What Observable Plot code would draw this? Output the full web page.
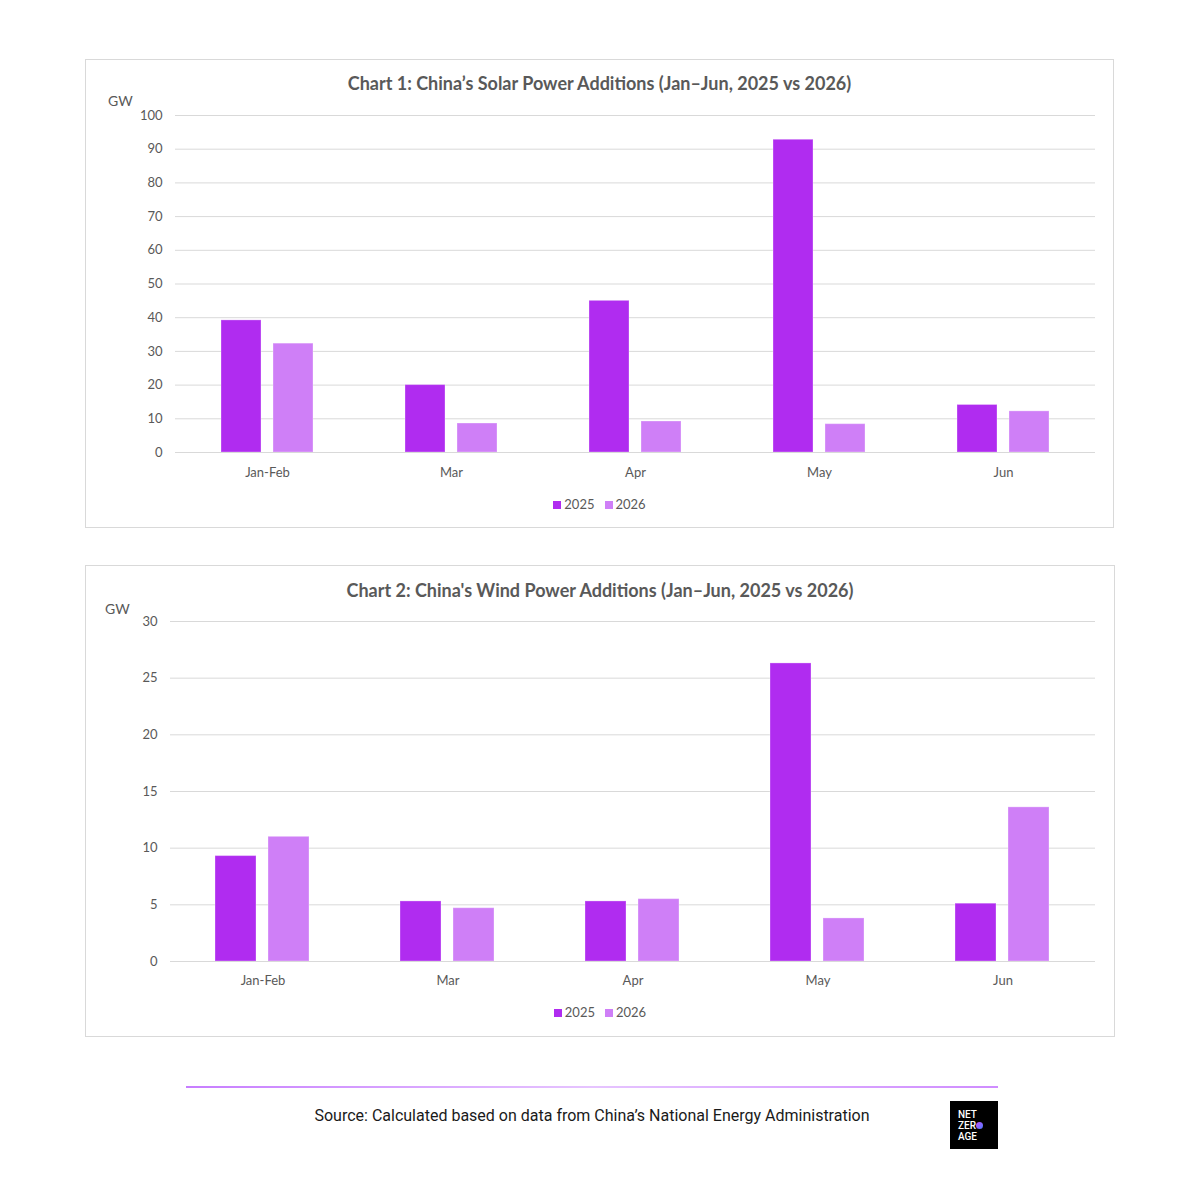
<!DOCTYPE html>
<html><head><meta charset="utf-8">
<script src="https://cdn.jsdelivr.net/npm/d3@7"></script>
<script src="https://cdn.jsdelivr.net/npm/@observablehq/plot@0.6"></script>
<style>
body{margin:0;background:#fff;width:1200px;height:1200px;position:relative;font-family:Lato,"Open Sans",sans-serif;overflow:hidden}
.panel{position:absolute;border:1px solid #d9d9d9;box-sizing:border-box;background:#fff}
.title{position:absolute;text-align:center;font-weight:700;font-size:18px;line-height:20px;color:#595959;white-space:nowrap}
.unit{position:absolute;font-size:14px;line-height:16px;color:#595959}
.legend{position:absolute;text-align:center;font-size:13px;line-height:16px;color:#595959;white-space:nowrap}
.sw{display:inline-block;width:8px;height:8px;margin-right:3px;vertical-align:0px}
.item{margin:0 5px}
.plotbox{position:absolute}
.source{position:absolute;left:186px;width:812px;top:1106px;text-align:center;font-family:"Liberation Sans Narrow",Roboto,sans-serif;font-size:16px;line-height:20px;color:#1a1a1a;white-space:nowrap}
.rule{position:absolute;left:186px;width:812px;top:1086px;height:2px;background:linear-gradient(to right,#c77dff,#e6c4ff 50%,#cf8cff)}
.logo{position:absolute;left:950px;top:1101px;width:48px;height:48px;background:#000;color:#fff;font-family:Roboto,"Liberation Sans",sans-serif;font-weight:500;font-size:10px;line-height:11px;box-sizing:border-box;padding:8px 0 0 8px}
.dot{display:inline-block;width:7px;height:7px;border-radius:50%;background:linear-gradient(135deg,#c04dff,#4d7dff);vertical-align:0px;margin-left:0.5px}
</style></head><body>
<div class="panel" style="left:85px;top:59px;width:1029px;height:469px"></div>
<div class="panel" style="left:85px;top:565px;width:1030px;height:472px"></div>

<div class="title" style="left:85px;width:1029px;top:73px">Chart 1: China’s Solar Power Additions (Jan–Jun, 2025 vs 2026)</div>
<div class="unit" style="left:108px;top:93px">GW</div>
<div id="plot1" class="plotbox" style="left:85px;top:99px"></div>
<div class="legend" id="leg1" style="left:85px;width:1029px;top:496px"></div>

<div class="title" style="left:85px;width:1030px;top:580px">Chart 2: China's Wind Power Additions (Jan–Jun, 2025 vs 2026)</div>
<div class="unit" style="left:105px;top:601px">GW</div>
<div id="plot2" class="plotbox" style="left:85px;top:600px"></div>
<div class="legend" id="leg2" style="left:85px;width:1030px;top:1004px"></div>

<div class="rule"></div>
<div class="source">Source: Calculated based on data from China’s National Energy Administration</div>
<div class="logo">NET<br>ZER<span class="dot"></span><br>AGE</div>

<script>
const months = ["Jan-Feb", "Mar", "Apr", "May", "Jun"];
const years = ["2025", "2026"];
const yearColors = ["#b02cf0", "#cf7ff7"];

const solar2025 = [39.2, 20.0, 45.0, 92.8, 14.1];
const solar2026 = [32.3, 8.6, 9.2, 8.4, 12.2];
const solarTicks = [0, 10, 20, 30, 40, 50, 60, 70, 80, 90, 100];

const wind2025 = [9.3, 5.3, 5.3, 26.3, 5.1];
const wind2026 = [11.0, 4.7, 5.5, 3.8, 13.6];
const windTicks = [0, 5, 10, 15, 20, 25, 30];

function rowsOf(a, b) {
  return months.flatMap((m, i) => [
    {month: m, year: years[0], value: a[i]},
    {month: m, year: years[1], value: b[i]}
  ]);
}

function makeChart(a, b, ticks, opts) {
  const rows = rowsOf(a, b);
  return Plot.plot({
    width: opts.width,
    height: opts.height,
    marginLeft: opts.marginLeft,
    marginRight: opts.marginRight,
    marginTop: opts.marginTop,
    marginBottom: opts.marginBottom,
    style: {fontFamily: "Lato, 'Open Sans', sans-serif", fontSize: "13px", color: "#595959", background: "transparent", overflow: "visible"},
    fx: {domain: months, padding: 0, label: null},
    x: {domain: years, paddingInner: 0.226, paddingOuter: 0.851, axis: null},
    y: {domain: [ticks[0], ticks[ticks.length - 1]], label: null},
    color: {domain: years, range: yearColors},
    marks: [
      Plot.gridY(ticks.slice(1), {stroke: "#d9d9d9", strokeOpacity: 1, strokeWidth: 1}),
      Plot.axisY(ticks, {tickSize: 0, tickPadding: 13, label: null, fill: "#595959"}),
      Plot.axisFx({anchor: "bottom", tickSize: 0, tickPadding: opts.xPad, label: null, fill: "#595959"}),
      Plot.barY(rows, {fx: "month", x: "year", y: "value", fill: "year", stroke: "#ffffff", strokeOpacity: 0.3, strokeWidth: 1}),
      Plot.ruleY([0], {stroke: "#d9d9d9", strokeWidth: 1.2})
    ]
  });
}

document.getElementById("plot1").append(makeChart(solar2025, solar2026, solarTicks, {
  width: 1028, height: 393, marginLeft: 89, marginRight: 18, marginTop: 16, marginBottom: 40, xPad: 15
}));
document.getElementById("plot2").append(makeChart(wind2025, wind2026, windTicks, {
  width: 1029, height: 401, marginLeft: 83, marginRight: 18, marginTop: 21, marginBottom: 40, xPad: 14
}));

function legend(id) {
  const el = document.getElementById(id);
  el.innerHTML = years.map((y, i) =>
    `<span class="item"><span class="sw" style="background:${yearColors[i]}"></span>${y}</span>`).join("");
}
legend("leg1");
legend("leg2");
</script>
</body></html>
